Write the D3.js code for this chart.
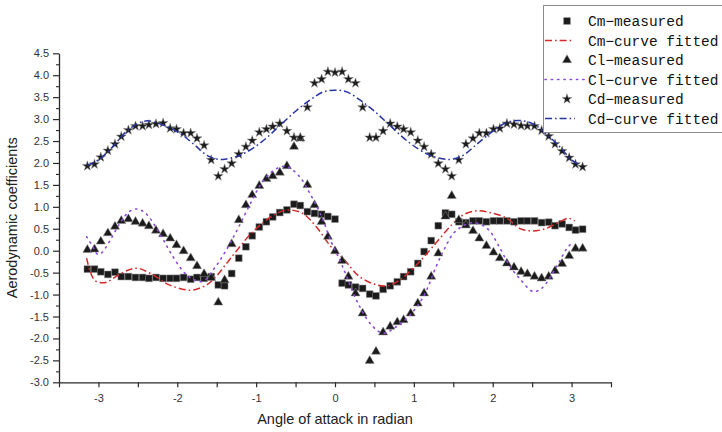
<!DOCTYPE html>
<html><head><meta charset="utf-8">
<script src="https://cdn.jsdelivr.net/npm/d3@7"></script>
<style>html,body{margin:0;padding:0;background:#fff;}svg{display:block;}</style>
</head><body>
<svg id="chart" width="722" height="432"></svg>
<script>
// ---- data ----
const angle = [-3.14,-3.05,-2.97,-2.88,-2.79,-2.71,-2.62,-2.53,-2.44,-2.36,-2.27,-2.18,-2.09,-2.01,-1.92,-1.83,-1.75,-1.66,-1.57,-1.48,-1.40,-1.31,-1.22,-1.13,-1.05,-0.96,-0.87,-0.79,-0.70,-0.61,-0.52,-0.44,-0.35,-0.26,-0.17,-0.09,0.00,0.09,0.17,0.26,0.35,0.44,0.52,0.61,0.70,0.79,0.87,0.96,1.05,1.13,1.22,1.31,1.40,1.48,1.57,1.66,1.75,1.83,1.92,2.01,2.09,2.18,2.27,2.36,2.44,2.53,2.62,2.71,2.79,2.88,2.97,3.05,3.14];

const cmMeasured = [-0.42,-0.42,-0.48,-0.54,-0.49,-0.59,-0.59,-0.61,-0.61,-0.63,
  -0.61,-0.63,-0.63,-0.63,-0.61,-0.65,-0.61,-0.63,-0.59,-0.78,
  -0.80,-0.52,-0.17,0.09,0.34,0.54,0.66,0.77,0.87,0.93,
  1.06,1.03,0.89,0.85,0.83,0.78,0.72,-0.74,-0.78,-0.83,
  -0.86,-0.99,-1.03,-0.88,-0.80,-0.71,-0.59,-0.48,-0.29,-0.02,
  0.23,0.57,0.86,0.83,0.66,0.64,0.68,0.68,0.66,0.68,
  0.68,0.68,0.66,0.68,0.68,0.68,0.64,0.65,0.57,0.61,
  0.53,0.47,0.49];

const clMeasured = [0.02,0.03,0.21,0.40,0.55,0.68,0.72,0.66,0.62,0.56,
  0.46,0.38,0.28,0.13,-0.01,-0.17,-0.35,-0.53,-0.62,-1.18,
  -0.67,0.15,0.70,1.04,1.27,1.48,1.64,1.70,1.78,1.93,
  2.37,2.56,1.50,1.04,0.66,0.32,-0.01,-0.23,-0.59,-0.97,
  -1.43,-2.51,-2.30,-1.86,-1.73,-1.63,-1.58,-1.43,-1.20,-0.97,
  -0.59,-0.06,0.78,1.25,0.70,0.58,0.45,0.28,0.11,-0.04,
  -0.17,-0.29,-0.38,-0.48,-0.53,-0.59,-0.63,-0.59,-0.46,-0.30,
  -0.12,0.05,0.05];

const cdMeasured = [1.93,1.97,2.13,2.28,2.43,2.60,2.75,2.84,2.84,2.87,
  2.89,2.91,2.79,2.77,2.68,2.68,2.56,2.40,2.07,1.70,
  1.86,1.99,2.20,2.37,2.51,2.70,2.77,2.83,2.90,2.73,
  2.58,2.58,3.27,3.82,3.91,4.08,4.06,4.08,3.91,3.82,
  3.27,2.58,2.58,2.73,2.90,2.83,2.77,2.70,2.51,2.37,
  2.20,1.99,1.86,1.70,2.07,2.43,2.56,2.68,2.68,2.77,
  2.79,2.90,2.88,2.85,2.84,2.84,2.74,2.61,2.43,2.27,
  2.12,1.97,1.91];

// fitted curves
const cmFitX = [-3.15,-3.05,-2.92,-2.77,-2.62,-2.50,-2.31,-2.10,-1.84,-1.67,-1.55,-1.34,-1.08,-0.87,-0.74,-0.60,-0.41,-0.24,-0.05,0.10,0.31,0.53,0.67,0.82,1.03,1.24,1.48,1.62,1.79,1.96,2.18,2.34,2.51,2.68,2.85,2.96,3.04];
const cmFitY = [-0.17,-0.67,-0.73,-0.58,-0.44,-0.40,-0.55,-0.78,-0.90,-0.82,-0.67,-0.21,0.36,0.70,0.85,0.93,0.85,0.55,0.09,-0.17,-0.59,-0.78,-0.80,-0.67,-0.33,0.09,0.59,0.81,0.91,0.87,0.74,0.51,0.45,0.51,0.66,0.74,0.68];

const clFitX = [-3.15,-3.07,-3.01,-2.96,-2.86,-2.73,-2.61,-2.51,-2.40,-2.20,-2.08,-1.93,-1.82,-1.68,-1.53,-1.39,-1.23,-1.06,-0.93,-0.77,-0.62,-0.45,-0.32,-0.17,-0.05,0.06,0.14,0.27,0.46,0.61,0.78,0.95,1.12,1.29,1.39,1.52,1.75,1.94,2.07,2.22,2.34,2.51,2.62,2.81,2.94,3.02];
const clFitY = [0.32,0.09,-0.08,-0.05,0.21,0.62,0.89,0.95,0.85,0.32,-0.06,-0.46,-0.63,-0.70,-0.40,-0.02,0.51,1.12,1.54,1.84,1.92,1.69,1.31,0.78,0.21,-0.21,-0.55,-1.12,-1.69,-1.88,-1.73,-1.47,-1.05,-0.33,0.05,0.43,0.64,0.49,0.13,-0.36,-0.63,-0.93,-0.86,-0.36,0.05,0.20];

const cdFitX = [-3.14,-3.00,-2.82,-2.65,-2.50,-2.38,-2.20,-1.97,-1.78,-1.63,-1.50,-1.42,-1.30,-1.17,-0.93,-0.70,-0.50,-0.32,-0.15,0.00,0.15,0.32,0.50,0.70,0.93,1.17,1.30,1.42,1.50,1.63,1.78,1.97,2.15,2.32,2.50,2.65,2.85,3.00,3.08];
const cdFitY = [1.95,2.07,2.37,2.71,2.90,2.96,2.88,2.68,2.41,2.18,2.09,2.08,2.12,2.20,2.48,2.85,3.18,3.43,3.62,3.66,3.62,3.43,3.18,2.85,2.48,2.20,2.12,2.08,2.09,2.18,2.40,2.68,2.90,2.97,2.90,2.71,2.37,2.07,1.98];

const xTickLabels = [-3,-2,-1,0,1,2,3];
const yTickLabels = ["-3.0","-2.5","-2.0","-1.5","-1.0","-0.5","0.0","0.5","1.0","1.5","2.0","2.5","3.0","3.5","4.0","4.5"];
const legendLabels = ["Cm\u2212measured","Cm\u2212curve fitted","Cl\u2212measured","Cl\u2212curve fitted","Cd\u2212measured","Cd\u2212curve fitted"];

// ---- drawing ----
const svg = d3.select("#chart");
const x = d3.scaleLinear().domain([-3.5,3.5]).range([59,611]);
const y = d3.scaleLinear().domain([-3,4.5]).range([382.3,53.3]);

const axisColor = "#2a2a2a";
const font = "'Liberation Sans', Arial, sans-serif";

// x axis
const gx = svg.append("g").attr("transform",`translate(0,${y(-3)})`);
gx.call(d3.axisBottom(x).tickValues(d3.range(-3.5,3.51,0.5)).tickSize(5).tickSizeOuter(0).tickFormat(d => Number.isInteger(d) && xTickLabels.includes(d) ? String(d) : ""));
gx.select(".domain").attr("stroke",axisColor).attr("stroke-width",1.3);
gx.selectAll(".tick line").attr("stroke",axisColor).attr("stroke-width",1.2);
gx.selectAll(".tick text").attr("font-family",font).attr("font-size",11).attr("fill","#333").attr("dy","1.05em");

// y axis major
const gy = svg.append("g").attr("transform",`translate(${x(-3.5)},0)`);
gy.call(d3.axisLeft(y).tickValues(yTickLabels.map(Number)).tickSize(6).tickSizeOuter(0).tickFormat((d,i) => yTickLabels[i]));
gy.select(".domain").attr("stroke",axisColor).attr("stroke-width",1.3);
gy.selectAll(".tick line").attr("stroke",axisColor).attr("stroke-width",1.2);
gy.selectAll(".tick text").attr("font-family",font).attr("font-size",11).attr("fill","#333").attr("dx","-1");
// y minor
const gym = svg.append("g").attr("transform",`translate(${x(-3.5)},0)`);
gym.call(d3.axisLeft(y).tickValues(d3.range(-2.75,4.5,0.5)).tickSize(3).tickFormat(""));
gym.select(".domain").remove();
gym.selectAll(".tick line").attr("stroke",axisColor).attr("stroke-width",1.1);

// titles
svg.append("text").attr("x",x(0)).attr("y",424).attr("text-anchor","middle")
  .attr("font-family",font).attr("font-size",14.5).attr("fill","#222").text("Angle of attack in radian");
svg.append("text").attr("transform",`translate(17,${(y(4.5)+y(-3))/2}) rotate(-90)`).attr("text-anchor","middle")
  .attr("font-family",font).attr("font-size",14.5).attr("fill","#222").text("Aerodynamic coefficients");

// styles
const S = {
  cmLine: {stroke:"#d42a2a", dash:"7,3,1.6,3", w:1.5},
  clLine: {stroke:"#8c4bd6", dash:"1.3,5", w:1.6},
  cdLine: {stroke:"#2834a0", dash:"7,3,1.6,3", w:1.5}
};
const sqSym = d3.symbol().type(d3.symbolSquare).size(46);
const triSym = d3.symbol().type(d3.symbolTriangle).size(36);
const starSym = d3.symbol().type(d3.symbolStar).size(30);

const line = d3.line().x(d => x(d[0])).y(d => y(d[1])).curve(d3.curveCatmullRom.alpha(0.5));

function drawMarkers(vals, sym, cls){
  svg.append("g").selectAll("path").data(angle.map((a,i)=>[a,vals[i]])).join("path")
    .attr("class",cls)
    .attr("d",sym)
    .attr("transform",d=>`translate(${x(d[0])},${y(d[1])})`)
    .attr("fill","#1b1b1b").attr("stroke","#8a8a8a").attr("stroke-width",0.5);
}
function drawCurve(xs, ys, st){
  svg.append("path").datum(xs.map((v,i)=>[v,ys[i]])).attr("d",line)
    .attr("fill","none").attr("stroke",st.stroke).attr("stroke-width",st.w)
    .attr("stroke-dasharray",st.dash).attr("stroke-linecap", st===S.clLine ? "round":"butt");
}

drawMarkers(cmMeasured, sqSym, "cm");
drawCurve(cmFitX, cmFitY, S.cmLine);
drawMarkers(clMeasured, triSym, "cl");
drawCurve(clFitX, clFitY, S.clLine);
drawMarkers(cdMeasured, starSym, "cd");
drawCurve(cdFitX, cdFitY, S.cdLine);

// legend
const lg = svg.append("g");
lg.append("rect").attr("x",543.5).attr("y",5.5).attr("width",200).attr("height",127)
  .attr("fill","#fff").attr("stroke","#8c8c8c").attr("stroke-width",1);
const rows = [
  {t:"m", sym:sqSym},
  {t:"l", st:S.cmLine, x2:573},
  {t:"m", sym:triSym},
  {t:"l", st:S.clLine, x2:586},
  {t:"m", sym:starSym},
  {t:"l", st:S.cdLine, x2:575}
];
rows.forEach((r,i)=>{
  const cy = 21 + i*19.5;
  if(r.t==="m"){
    lg.append("path").attr("d",r.sym).attr("transform",`translate(567,${cy})`).attr("fill","#1b1b1b").attr("stroke","#8a8a8a").attr("stroke-width",0.5);
  } else {
    lg.append("line").attr("x1",545).attr("x2",r.x2).attr("y1",cy).attr("y2",cy)
      .attr("stroke",r.st.stroke).attr("stroke-width",r.st.w).attr("stroke-dasharray",r.st.dash)
      .attr("stroke-linecap", r.st===S.clLine ? "round":"butt");
  }
  lg.append("text").attr("x",588).attr("y",cy).attr("dy","0.36em")
    .attr("font-family","'Liberation Mono','DejaVu Sans Mono',monospace").attr("font-size",14.5).attr("fill","#111")
    .text(legendLabels[i]);
});
</script>
</body></html>
